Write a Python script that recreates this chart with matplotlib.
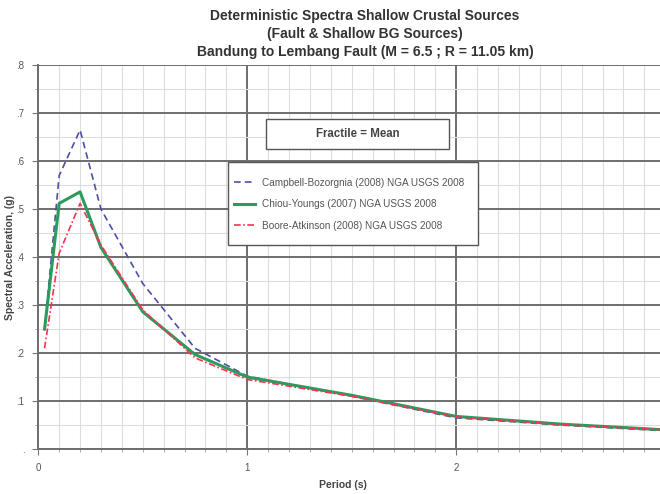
import numpy as np
import matplotlib
matplotlib.use('Agg')
import matplotlib.pyplot as plt
from matplotlib.ticker import MultipleLocator, FixedLocator
from matplotlib.patches import Rectangle

# periods (s) and mean spectral acceleration (g)
period = [0.03, 0.1, 0.2, 0.3, 0.5, 0.75, 1.0, 1.5, 2.0, 2.5, 3.0]
campbell = [0.25, 0.57, 0.665, 0.50, 0.345, 0.21, 0.152, 0.110, 0.065, 0.050, 0.038]
chiou = [0.25, 0.512, 0.536, 0.42, 0.286, 0.197, 0.150, 0.112, 0.068, 0.052, 0.040]
boore = [0.21, 0.408, 0.512, 0.425, 0.29, 0.19, 0.145, 0.110, 0.067, 0.051, 0.040]

yticks = [0, 0.1, 0.2, 0.3, 0.4, 0.5, 0.6, 0.7, 0.8]
ylabels = ['.', '.1', '.2', '.3', '.4', '.5', '.6', '.7', '.8']
xticks = [0, 1, 2]
xlabels = ['0', '1', '2']

plt.rcParams['font.family'] = ['Liberation Sans', 'DejaVu Sans']

fig = plt.figure(dpi=100, figsize=(6.6, 4.94))
ax = fig.add_axes([0.058, 0.091, 0.942, 0.777])

ax.set_xlim(0, 2.975)
ax.set_ylim(0, 0.8)

ax.xaxis.set_major_locator(FixedLocator(xticks))
ax.set_xticklabels(xlabels, fontsize=7, color='#555555')
ax.yaxis.set_major_locator(FixedLocator(yticks))
ax.set_yticklabels(ylabels, fontsize=7, color='#555555')
ax.xaxis.set_minor_locator(MultipleLocator(0.1))
ax.yaxis.set_minor_locator(MultipleLocator(0.05))

ax.grid(which='major', color='#6e6e6e', linewidth=1.4)
ax.grid(which='minor', color='#dddddd', linewidth=0.8)
ax.tick_params(which='major', length=4, color='#777777', pad=6)
ax.tick_params(which='minor', length=2.5, color='#999999')
for s in ['top', 'right']:
    ax.spines[s].set_visible(False)
for s in ['left', 'bottom']:
    ax.spines[s].set_color('#6e6e6e')
    ax.spines[s].set_linewidth(1.4)
ax.set_axisbelow(True)

ax.plot(period, campbell, color='#4b4fa8', linestyle=(0, (4, 2.5)), linewidth=1.2,
        label='Campbell-Bozorgnia (2008) NGA USGS 2008')
ax.plot(period, chiou, color='#2e9a5c', linestyle='-', linewidth=2.2,
        label='Chiou-Youngs (2007) NGA USGS 2008')
ax.plot(period, boore, color='#ff3050', linestyle=(0, (4, 1.5, 1, 1.5)), linewidth=1.2,
        label='Boore-Atkinson (2008) NGA USGS 2008')

# legend frame
ax.add_patch(Rectangle((0.305, 0.531), 0.402, 0.216, transform=ax.transAxes,
                       fc='white', ec='#555555', lw=1.0, zorder=4))
leg = ax.legend(loc='upper left', bbox_to_anchor=(0.315, 0.707),
                fontsize=7.2, frameon=False, handlelength=2.1, handletextpad=0.7,
                borderpad=0, borderaxespad=0, labelspacing=1.15,
                labelcolor='#555555')
leg.set_zorder(5)

# fractile box
ax.add_patch(Rectangle((0.367, 0.781), 0.294, 0.078, transform=ax.transAxes,
                       fc='white', ec='#555555', lw=1.0, zorder=4))
ax.text(0.514, 0.820, 'Fractile = Mean', transform=ax.transAxes, ha='center',
        va='center', fontsize=8.3, fontweight='bold', color='#444444', zorder=5)

ax.set_xlabel('Period (s)', fontsize=7.5, fontweight='bold', color='#444444')
ax.xaxis.set_label_coords(0.49, -0.08)
ax.set_ylabel('Spectral Acceleration, (g)', fontsize=7.5, fontweight='bold',
              color='#444444')
ax.yaxis.set_label_coords(-0.038, 0.5)

fig.text(0.553, 0.967, 'Deterministic Spectra Shallow Crustal Sources', ha='center',
         va='center', fontsize=10, fontweight='bold', color='#333333')
fig.text(0.553, 0.932, '(Fault & Shallow BG Sources)', ha='center',
         va='center', fontsize=10, fontweight='bold', color='#333333')
fig.text(0.553, 0.895, 'Bandung to Lembang Fault (M = 6.5 ; R = 11.05 km)', ha='center',
         va='center', fontsize=10, fontweight='bold', color='#333333')

fig.savefig('out.png', dpi=100)
